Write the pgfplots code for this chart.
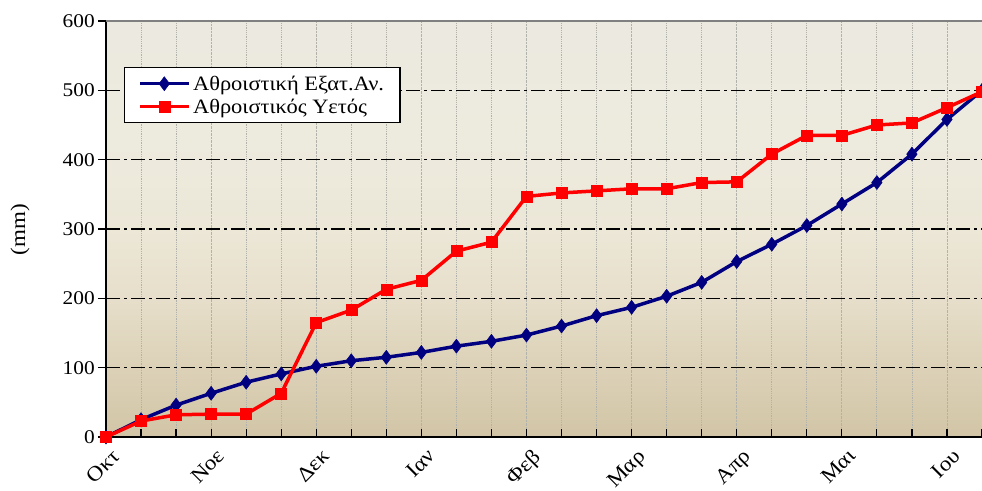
\documentclass[border=0pt]{standalone}
\usepackage{pgfplots}
\pgfplotsset{compat=1.18}
\usepackage{fontspec}
\setmainfont{Liberation Serif}[FakeStretch=1.1]
\definecolor{bgA}{RGB}{210,197,166}
\definecolor{bgB}{RGB}{222,212,187}
\definecolor{bgC}{RGB}{231,223,203}
\definecolor{bgD}{RGB}{236,231,215}
\definecolor{bgE}{RGB}{237,234,222}
\definecolor{bgF}{RGB}{236,234,224}
\definecolor{navyline}{RGB}{0,0,128}
\definecolor{gridgray}{RGB}{178,178,172}
\pgfdeclareverticalshading{bgshade}{100bp}{color(0bp)=(bgA); color(25bp)=(bgA); color(35bp)=(bgB); color(42bp)=(bgC); color(50bp)=(bgD); color(60bp)=(bgE); color(75bp)=(bgF); color(100bp)=(bgF)}
\begin{document}
\begin{tikzpicture}
\path[use as bounding box] (0,0) rectangle (982bp,491bp);
\begin{axis}[
  at={(106bp,54bp)}, anchor=south west,
  scale only axis, width=876bp, height=416bp,
  xmin=0, xmax=25, ymin=0, ymax=600,
  axis background/.style={shading=bgshade},
  axis x line=bottom, axis y line=left,
  x axis line style={-, black, line width=1.3bp},
  y axis line style={-, black, line width=1.3bp},
  xtick={0,3,...,24},
  xticklabels={Οκτ,Νοε,Δεκ,Ιαν,Φεβ,Μαρ,Απρ,Μαι,Ιου},
  minor xtick={1,2,4,5,7,8,10,11,13,14,16,17,19,20,22,23,25},
  ytick={0,100,...,600},
  xtick align=inside, ytick align=outside,
  major tick length=8bp, minor tick length=8bp,
  tick style={black, line width=1.2bp},
  minor tick style={black, line width=1.2bp},
  xmajorgrids, xminorgrids, ymajorgrids,
  x grid style={gridgray, densely dotted, line width=0.8bp},
  minor x grid style={gridgray, densely dotted, line width=0.8bp},
  y grid style={black, line width=1.5bp, dash pattern=on 14bp off 4bp on 3bp off 4bp},
  /pgf/number format/assume math mode=true,
  yticklabel style={inner sep=3bp, font=\fontsize{19.5}{19.5}\selectfont},
  ylabel={(mm)},
  ylabel style={font=\fontsize{21}{21}\selectfont, at={(axis description cs:-0.098,0.498)}, anchor=center},
  legend style={at={(axis description cs:0.0205,0.889)}, anchor=north west,
    draw=black, line width=1.2bp, fill=white, font=\fontsize{20.5}{20.5}\selectfont,
    inner xsep=14bp, inner ysep=6bp, row sep=3bp,
    /tikz/every even column/.append style={column sep=6bp}},
  legend cell align=left,
  legend image code/.code={\draw[#1] (0bp,0bp) -- (24bp,0bp) -- (49bp,0bp); \path[#1,only marks] plot coordinates {(24bp,0bp)};},
  after end axis/.code={\draw[gray, line width=1.4bp] (rel axis cs:0,1) -- (rel axis cs:1,1);},
  clip=false,
  x tick label style={font=\fontsize{21}{21}\selectfont, rotate=45, anchor=north east, inner sep=1bp, xshift=-3bp, yshift=-10bp},
]
\addplot[navyline, line width=3.5bp, mark=diamond*, mark size=7bp, mark options={line width=0.5bp}] coordinates {
(0,0) (1,25) (2,46) (3,63) (4,79) (5,91) (6,102) (7,110) (8,115) (9,122)
(10,131) (11,138) (12,147) (13,160) (14,175) (15,187) (16,203) (17,223) (18,253) (19,278)
(20,305) (21,336) (22,367) (23,408) (24,458) (25,500)};
\addlegendentry{Αθροιστική Εξατ.Αν.}
\addplot[red, line width=3.5bp, mark=square*, mark size=5.5bp, mark options={line width=0.5bp}] coordinates {
(0,0) (1,23) (2,32) (3,33) (4,33) (5,63) (6,165) (7,183) (8,213) (9,226)
(10,268) (11,281) (12,347) (13,352) (14,355) (15,358) (16,358) (17,367) (18,368) (19,408)
(20,435) (21,435) (22,450) (23,453) (24,475) (25,498)};
\addlegendentry{Αθροιστικός Υετός}
\end{axis}
\end{tikzpicture}
\end{document}
